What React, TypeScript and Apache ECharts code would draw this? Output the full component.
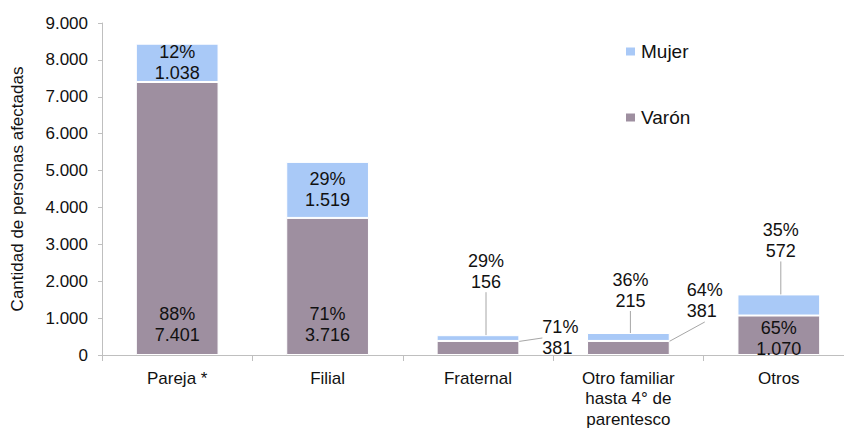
import React, { useEffect, useRef } from "react";
import * as echarts from "echarts";

const categories = ["Pareja *", "Filial", "Fraternal", "Otro familiar\nhasta 4° de\nparentesco", "Otros"];
const varonValues = [7401, 3716, 381, 381, 1070];
const mujerValues = [1038, 1519, 156, 215, 572];
const varonPct = [88, 71, 71, 64, 65];
const mujerPct = [12, 29, 29, 36, 35];
const yTicks = { min: 0, max: 9000, interval: 1000 };

const FONT = "'Liberation Sans', Arial, sans-serif";
const fmt = (v: number) => String(v).replace(/\B(?=(\d{3})+(?!\d))/g, ".");

// label placement per item (styling only)
const varonLabelPos = ["insideBottom", "insideBottom", "right", "right", "inside"];
const mujerLabelPos = ["inside", "inside", "top", "top", "top"];
const varonOffsets: Record<number, [number, number]> = { 2: [18, -10], 3: [12, -47], 4: [0, 3] };
const varonLines: Record<number, boolean> = { 2: true, 3: true };
const mujerOffsets: Record<number, [number, number]> = { 2: [8, -38], 3: [2, -17], 4: [2, -28] };
const mujerLines: Record<number, boolean> = { 2: true, 3: true, 4: true };

export default function App() {
  const ref = useRef<HTMLDivElement>(null);
  useEffect(() => {
    if (!ref.current) return;
    const chart = echarts.init(ref.current, null, { renderer: "svg" });
    const labelBase = {
      show: true,
      color: "#111",
      fontFamily: FONT,
      fontSize: 18,
      lineHeight: 21,
    };
    const lineStyle = { color: "#A6A6A6", width: 1 };
    const varonData = varonValues.map((v, i) => ({
      value: v,
      label: {
        position: varonLabelPos[i],
        distance: varonLabelPos[i] === "insideBottom" ? 10 : 5,
        formatter: `${varonPct[i]}%\n${fmt(v)}`,
      },
      labelLine: { show: !!varonLines[i], lineStyle },
    }));
    const mujerData = mujerValues.map((v, i) => ({
      value: v,
      label: {
        position: mujerLabelPos[i],
        distance: 5,
        formatter: `${mujerPct[i]}%\n${fmt(v)}`,
      },
      labelLine: { show: !!mujerLines[i], lineStyle },
    }));
    chart.setOption({
      animation: false,
      textStyle: { fontFamily: FONT },
      grid: { left: 102, right: -10, top: 23, bottom: 73, containLabel: false, outerBoundsMode: "none" },
      legend: {
        orient: "vertical",
        left: 624,
        top: 42,
        padding: 0,
        itemWidth: 11,
        itemHeight: 10,
        itemGap: 47,
        icon: "rect",
        data: ["Mujer", "Varón"],
        textStyle: { fontSize: 19, color: "#111", fontFamily: FONT, padding: [0, 0, 0, 0] },
      },
      xAxis: {
        type: "category",
        data: categories,
        axisLine: { lineStyle: { color: "#BFBFBF", width: 1 } },
        axisTick: { show: true, length: 6, lineStyle: { color: "#BFBFBF" } },
        axisLabel: { color: "#111", fontSize: 17, lineHeight: 20.5, margin: 13, fontFamily: FONT },
      },
      yAxis: {
        type: "value",
        min: yTicks.min,
        max: yTicks.max,
        interval: yTicks.interval,
        name: "Cantidad de personas afectadas",
        nameLocation: "middle",
        nameRotate: 90,
        nameGap: 76,
        nameTextStyle: { color: "#111", fontSize: 17, fontFamily: FONT },
        axisLine: { show: true, lineStyle: { color: "#BFBFBF", width: 1 } },
        axisTick: { show: true, length: 4, lineStyle: { color: "#BFBFBF" } },
        splitLine: { show: false },
        axisLabel: {
          color: "#111",
          fontSize: 17,
          margin: 14,
          fontFamily: FONT,
          formatter: (v: number) => fmt(v),
        },
      },
      series: [
        {
          name: "Varón",
          type: "bar",
          stack: "total",
          barWidth: "55%",
          data: varonData,
          itemStyle: { color: "#9E8FA0", borderColor: "#fff", borderWidth: 1 },
          label: labelBase,
          labelLayout: (p: any) => {
            const o = varonOffsets[p.dataIndex];
            return o ? { dx: o[0], dy: o[1] } : {};
          },
        },
        {
          name: "Mujer",
          type: "bar",
          stack: "total",
          barWidth: "55%",
          data: mujerData,
          itemStyle: { color: "#A9C9F7", borderColor: "#fff", borderWidth: 1 },
          label: labelBase,
          labelLayout: (p: any) => {
            const o = mujerOffsets[p.dataIndex];
            return o ? { dx: o[0], dy: o[1] } : {};
          },
        },
      ],
    });
    return () => chart.dispose();
  }, []);
  return <div ref={ref} style={{ width: 844, height: 428, position: "absolute", left: 0, top: 0 }} />;
}
